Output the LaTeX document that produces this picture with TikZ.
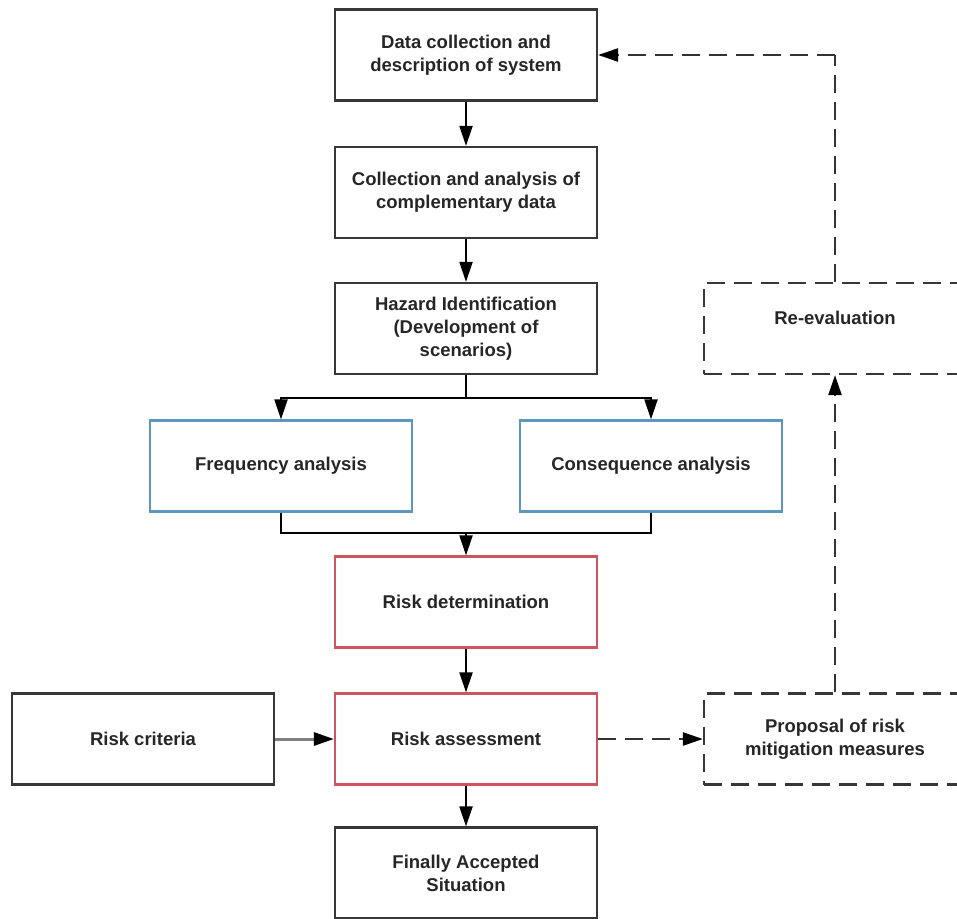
\documentclass[tikz,border=0pt]{standalone}
\usepackage{fontspec}
\setmainfont{Liberation Sans}
\usetikzlibrary{arrows.meta}
\definecolor{edge}{RGB}{55,55,55}
\definecolor{blueedge}{RGB}{95,150,190}
\definecolor{rededge}{RGB}{205,85,95}
\begin{document}
\begin{tikzpicture}[x=1pt,y=-1pt,>={Triangle[length=20pt,width=13pt,color=black]},
 font=\fontsize{18.5}{23}\selectfont\bfseries,
 pbox/.style={draw=edge,line width=2.2pt,minimum width=262pt,minimum height=91pt,align=center,text=black!85,inner sep=2pt},
 qbox/.style={pbox,draw=blueedge},
 rbox/.style={pbox,draw=rededge},
 dbox/.style={pbox,dash pattern=on 18pt off 9pt},
 ln/.style={draw=black,line width=2pt},
 dln/.style={ln,draw=black!80,line width=2.4pt,dash pattern=on 18pt off 9pt}]
\useasboundingbox (0,0) rectangle (957,918);
\node[pbox] (sData) at (466,55) {Data collection and\\description of system};
\node[pbox] (sColl) at (466,192.5) {Collection and analysis of\\complementary data};
\node[pbox] (sHaz) at (466,328.5) {Hazard Identification\\(Development of\\scenarios)};
\node[qbox] (sFreq) at (281,466) {Frequency analysis};
\node[qbox] (sCons) at (651,466) {Consequence analysis};
\node[rbox] (sDet) at (466,602) {Risk determination};
\node[rbox] (sAss) at (466,739) {Risk assessment};
\node[pbox] (sFin) at (466,873) {Finally Accepted\\Situation};
\node[pbox] (sCrit) at (143,739) {Risk criteria};
\node[dbox] (sProp) at (835,739) {Proposal of risk\\mitigation measures};
\node[dbox] (sReev) at (835,328.5) {Re-evaluation\\[-1pt]};
\coordinate (jSplit) at (466,398);
\coordinate (jMerge) at (466,533);
\coordinate (jTop) at (835,55);
\draw[ln,->] (sData) -- (sColl);
\draw[ln,->] (sColl) -- (sHaz);
\draw[ln] (sHaz) -- (jSplit);
\draw[ln,->] (jSplit) -| (sFreq);
\draw[ln,->] (jSplit) -| (sCons);
\draw[ln] (sFreq) |- (jMerge);
\draw[ln] (sCons) |- (jMerge);
\draw[ln,->] (jMerge) -- (sDet);
\draw[ln,->] (sDet) -- (sAss);
\draw[ln,->] (sAss) -- (sFin);
\draw[ln,draw=gray,line width=3pt,->] (sCrit) -- (sAss);
\draw[dln,->] (sAss) -- (sProp);
\draw[dln,->] (sProp) -- (sReev);
\draw[dln] (sReev) -- (jTop);
\draw[dln,->] (jTop) -- (sData);
\end{tikzpicture}
\end{document}
